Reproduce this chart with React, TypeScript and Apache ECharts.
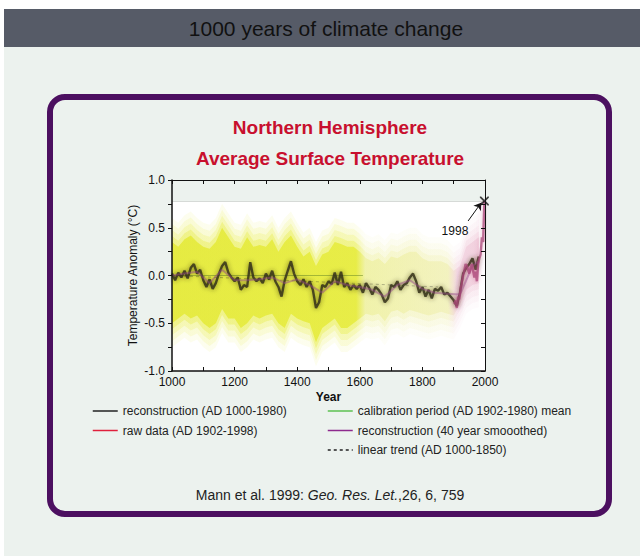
import React, { useEffect, useRef } from "react";
import * as echarts from "echarts";

const FONT = "'Liberation Sans', Arial, sans-serif";

// Reconstruction (decadal samples, AD 1000-1980)
const RECON_YEARS = Array.from({ length: 99 }, (_, i) => 1000 + i * 10);
const RECON = [
  0.02, -0.05, 0.03, -0.02, 0.05, -0.03, 0.08, 0.12, 0.02, 0.06,
  -0.05, -0.12, -0.04, -0.14, -0.08, 0.02, 0.10, 0.14, 0.03, -0.02,
  -0.06, -0.02, -0.15, -0.10, -0.12, 0.14, -0.02, -0.06, -0.03, -0.08,
  0.02, -0.04, 0.05, -0.06, -0.12, -0.22, -0.05, 0.05, 0.15, 0.02,
  -0.06, -0.10, -0.04, -0.12, -0.06, -0.15, -0.34, -0.28, -0.10, -0.12,
  -0.06, -0.09, 0.03, -0.10, 0.04, -0.12, -0.08, -0.15, -0.10, -0.14,
  -0.10, -0.18, -0.08, -0.13, -0.20, -0.12, -0.15, -0.20, -0.28, -0.24,
  -0.10, -0.12, -0.06, -0.15, -0.10, -0.08, -0.02, 0.02, -0.06, -0.18,
  -0.12, -0.22, -0.15, -0.24, -0.14, -0.16, -0.12, -0.20, -0.18, -0.22,
  -0.26, -0.32, -0.18, 0.02, 0.08, 0.12, 0.18, 0.06, 0.20,
];

// Uncertainty band (20-year samples)
const BAND_YEARS = Array.from({ length: 50 }, (_, i) => 1000 + i * 20);
const BAND_UPPER = [
  0.35, 0.30, 0.38, 0.42, 0.35, 0.30, 0.28, 0.35, 0.50, 0.40,
  0.30, 0.28, 0.40, 0.30, 0.32, 0.30, 0.38, 0.25, 0.35, 0.42,
  0.30, 0.20, 0.25, 0.10, 0.22, 0.25, 0.35, 0.33, 0.30, 0.30,
  0.25, 0.18, 0.15, 0.18, 0.12, 0.20, 0.18, 0.22, 0.25, 0.25,
  0.18, 0.15, 0.15, 0.15, 0.12, 0.05, 0.10, 0.30, 0.35, 0.40,
];
const BAND_LOWER = [
  -0.50, -0.45, -0.40, -0.45, -0.42, -0.50, -0.55, -0.50, -0.35, -0.45,
  -0.45, -0.55, -0.50, -0.42, -0.45, -0.42, -0.40, -0.50, -0.55, -0.40,
  -0.45, -0.48, -0.50, -0.70, -0.55, -0.50, -0.45, -0.55, -0.55, -0.50,
  -0.45, -0.40, -0.42, -0.40, -0.48, -0.38, -0.36, -0.40, -0.36, -0.38,
  -0.40, -0.42, -0.40, -0.38, -0.40, -0.42, -0.30, -0.15, -0.10, -0.08,
];

// Raw instrumental data (AD 1902-1998)
const RAW_YEARS = [1902, 1906, 1910, 1914, 1918, 1922, 1926, 1930, 1934, 1938, 1942, 1946, 1950, 1954, 1958, 1962, 1966, 1970, 1974, 1978, 1982, 1986, 1990, 1994, 1998];
const RAW = [-0.30, -0.26, -0.34, -0.22, -0.25, -0.14, -0.08, 0.0, 0.05, 0.12, 0.10, 0.06, 0.02, 0.08, 0.12, 0.05, -0.02, 0.04, -0.06, 0.12, 0.18, 0.22, 0.40, 0.35, 0.78];

// 40-year smoothed reconstruction
const SMOOTH_YEARS = [1000, 1040, 1080, 1120, 1160, 1200, 1240, 1280, 1320, 1360, 1400, 1440, 1480, 1520, 1560, 1600, 1640, 1680, 1720, 1760, 1800, 1840, 1880, 1920, 1960, 1980];
const SMOOTH = [0.0, 0.02, 0.04, -0.08, 0.06, -0.05, -0.05, -0.04, -0.02, -0.08, -0.04, -0.10, -0.18, -0.06, -0.10, -0.12, -0.15, -0.22, -0.10, -0.05, -0.14, -0.18, -0.19, -0.20, 0.10, 0.15];

const CALIB_YEARS = [1000, 1610];
const CALIB = [0.0, 0.0];
const TREND_YEARS = [1000, 1850];
const TREND = [0.0, -0.12];

const PEAK_YEAR = 1998;
const PEAK_VALUE = 0.78;

const NAMES = {
  recon: "reconstruction (AD 1000-1980)",
  raw: "raw data (AD 1902-1998)",
  calib: "calibration period (AD 1902-1980) mean",
  smooth: "reconstruction (40 year smooothed)",
  trend: "linear trend (AD 1000-1850)",
};

const pairs = (xs: number[], ys: number[]) => xs.map((x, i) => [x, ys[i]]);

// halo layers used to soften the band's edges: [pixel spread, opacity]
const HALO = [
  [24, 0.08],
  [18, 0.12],
  [12, 0.18],
  [6, 0.3],
  [0, 0.72],
];

export default function App() {
  const ref = useRef<HTMLDivElement>(null);
  useEffect(() => {
    if (!ref.current) return;
    const chart = echarts.init(ref.current, undefined, { renderer: "svg" });
    const makeGrad = () =>
      new echarts.graphic.LinearGradient(0, 0, 1, 0, [
        { offset: 0, color: "#E2E826" },
        { offset: 0.6, color: "#E4EA2C" },
        { offset: 0.63, color: "#EEF09E" },
        { offset: 0.9, color: "#F1F0B6" },
        { offset: 0.93, color: "#F2D2DF" },
        { offset: 1, color: "#EFC8D8" },
      ]);
    const legendText = { fontSize: 12, color: "#222", fontFamily: FONT };
    const axisLabel = { color: "#111", fontSize: 12, fontFamily: FONT };
    const hidden = { opacity: 0 };
    const legendCommon = {
      orient: "vertical", itemWidth: 25, itemHeight: 10, itemGap: 7.5, padding: 0,
      selectedMode: false, textStyle: legendText, itemStyle: hidden,
    };
    const option: any = {
      animation: false,
      backgroundColor: "transparent",
      textStyle: { fontFamily: FONT },
      grid: { left: 172, top: 180, width: 313, height: 191 },
      graphic: [
        {
          type: "text", x: 326, y: 28, z: 100,
          style: { text: "1000 years of climate change", fontSize: 21, fontFamily: FONT, fill: "#111", textAlign: "center", textVerticalAlign: "middle" },
        },
        {
          type: "text", x: 330, y: 127, z: 100,
          style: { text: "Northern Hemisphere", fontSize: 19, fontWeight: "bold", fontFamily: FONT, fill: "#C8102E", textAlign: "center", textVerticalAlign: "middle" },
        },
        {
          type: "text", x: 330, y: 158, z: 100,
          style: { text: "Average Surface Temperature", fontSize: 19, fontWeight: "bold", fontFamily: FONT, fill: "#C8102E", textAlign: "center", textVerticalAlign: "middle" },
        },
        {
          type: "text", x: 330, y: 495, z: 100,
          style: {
            text: "Mann et al. 1999: {i|Geo. Res. Let.},26, 6, 759",
            fontSize: 14, fontFamily: FONT, fill: "#222", textAlign: "center", textVerticalAlign: "middle",
            rich: { i: { fontStyle: "italic", fontSize: 14, fontFamily: FONT, fill: "#222" } },
          },
        },
      ],
      legend: [
        {
          ...legendCommon, left: 92, top: 405,
          data: [
            { name: NAMES.recon, itemStyle: hidden, lineStyle: { color: "#222", width: 1.5, opacity: 1, shadowBlur: 0 } },
            { name: NAMES.raw, itemStyle: hidden, lineStyle: { color: "#E0203C", width: 1.5, opacity: 1, shadowBlur: 0 } },
          ],
        },
        {
          ...legendCommon, left: 327, top: 405,
          data: [
            { name: NAMES.calib, itemStyle: hidden, lineStyle: { color: "#5DC050", width: 1.5, opacity: 1, shadowBlur: 0 } },
            { name: NAMES.smooth, itemStyle: hidden, lineStyle: { color: "#8E2A8E", width: 1.5, opacity: 1, shadowBlur: 0 } },
            { name: NAMES.trend, itemStyle: hidden, lineStyle: { color: "#222", width: 1.5, opacity: 1, shadowBlur: 0, type: [3, 3] } },
          ],
        },
      ],
      xAxis: [
        {
          type: "value", min: 1000, max: 2000, interval: 100, position: "bottom", z: 10,
          axisLine: { show: true, onZero: false, lineStyle: { color: "#111", width: 1.5 } },
          axisTick: { show: true, inside: true, length: 4, lineStyle: { color: "#111" } },
          axisLabel: { ...axisLabel, margin: 5, formatter: (v: number) => (v % 200 === 0 ? String(v) : "") },
          splitLine: { show: false },
          name: "Year", nameLocation: "middle", nameGap: 20,
          nameTextStyle: { fontWeight: "bold", fontSize: 12, color: "#111", fontFamily: FONT },
        },
        {
          type: "value", min: 1000, max: 2000, interval: 100, position: "top", z: 10,
          axisLine: { show: true, onZero: false, lineStyle: { color: "#111", width: 1 } },
          axisTick: { show: true, inside: true, length: 4, lineStyle: { color: "#111" } },
          axisLabel: { show: false }, splitLine: { show: false },
        },
      ],
      yAxis: [
        {
          type: "value", min: -1, max: 1, interval: 0.25, position: "left", z: 10,
          axisLine: { show: true, onZero: false, lineStyle: { color: "#111", width: 1.5 } },
          axisTick: { show: true, inside: false, length: 4, lineStyle: { color: "#111" } },
          axisLabel: {
            ...axisLabel, margin: 7,
            formatter: (v: number) => (Math.abs(v * 2 - Math.round(v * 2)) < 1e-6 ? v.toFixed(1) : ""),
          },
          splitLine: { show: false },
          name: "Temperature Anomaly (°C)", nameLocation: "middle", nameGap: 33,
          nameTextStyle: { fontSize: 12, color: "#111", fontFamily: FONT },
        },
        {
          type: "value", min: -1, max: 1, interval: 0.25, position: "right", z: 10,
          axisLine: { show: true, onZero: false, lineStyle: { color: "#111", width: 1 } },
          axisTick: { show: true, inside: true, length: 4, lineStyle: { color: "#111" } },
          axisLabel: { show: false }, splitLine: { show: false },
        },
      ],
      series: [
        {
          type: "line", data: [], silent: true, z: 1,
          markArea: { silent: true, itemStyle: { color: "#ffffff" }, data: [[{ yAxis: -1 }, { yAxis: PEAK_VALUE }]] },
          markLine: {
            silent: true, symbol: "none", label: { show: false },
            lineStyle: { color: "#d6dad7", width: 1, type: "solid" },
            data: [{ yAxis: PEAK_VALUE }],
          },
        },
        {
          type: "custom", silent: true, z: 2, clip: true,
          data: [[BAND_YEARS[0], BAND_UPPER[0]]],
          renderItem: (_params: any, api: any) => {
            const top = BAND_YEARS.map((y, i) => api.coord([y, BAND_UPPER[i]]));
            const bot = BAND_YEARS.map((y, i) => api.coord([y, BAND_LOWER[i]]));
            const yTop = api.coord([1000, PEAK_VALUE])[1];
            const yBot = api.coord([1000, -1])[1];
            const children = HALO.map(([d, op]) => {
              const t = top.map((p: number[]) => [p[0], Math.max(yTop, p[1] - d)]);
              const b = bot.map((p: number[]) => [p[0], Math.min(yBot, p[1] + d)]).reverse();
              return {
                type: "polygon",
                shape: { points: t.concat(b) },
                style: { fill: makeGrad(), opacity: op },
              };
            });
            return { type: "group", children };
          },
        },
        {
          name: NAMES.calib, type: "line", symbol: "none", silent: true, z: 3,
          data: pairs(CALIB_YEARS, CALIB),
          lineStyle: { color: "rgba(110,140,40,0.55)", width: 1 },
        },
        {
          name: NAMES.trend, type: "line", symbol: "none", silent: true, z: 3,
          data: pairs(TREND_YEARS, TREND),
          lineStyle: { color: "rgba(30,30,30,0.3)", width: 1, type: [3, 3] },
        },
        {
          name: NAMES.recon, type: "line", symbol: "none", silent: true, z: 4,
          data: pairs(RECON_YEARS, RECON),
          lineStyle: { color: "#35331a", width: 2.4, opacity: 0.85, shadowBlur: 5, shadowColor: "rgba(50,45,20,0.75)" },
        },
        {
          name: NAMES.smooth, type: "line", symbol: "none", silent: true, z: 5,
          data: pairs(SMOOTH_YEARS, SMOOTH),
          lineStyle: { color: "rgba(150,70,140,0.45)", width: 2 },
        },
        {
          name: NAMES.raw, type: "line", symbol: "none", silent: true, z: 5,
          data: pairs(RAW_YEARS, RAW),
          lineStyle: { color: "rgba(170,70,120,0.75)", width: 2.4, shadowBlur: 5, shadowColor: "rgba(200,80,130,0.6)" },
        },
        {
          type: "scatter", silent: true, z: 10,
          data: [[PEAK_YEAR, PEAK_VALUE]],
          symbol: "path://M0,0 L1.4,0 L5,3.6 L8.6,0 L10,0 L10,1.4 L6.4,5 L10,8.6 L10,10 L8.6,10 L5,6.4 L1.4,10 L0,10 L0,8.6 L3.6,5 L0,1.4 Z",
          symbolSize: 9,
          itemStyle: { color: "#111" },
          markLine: {
            silent: true, symbol: ["none", "arrow"], symbolSize: 7,
            label: { show: false },
            lineStyle: { color: "#111", width: 1, type: "solid" },
            data: [[{ coord: [1946, 0.571] }, { coord: [1988, 0.762] }]],
          },
          markPoint: {
            silent: true, symbol: "rect", symbolSize: [30, 14],
            itemStyle: { color: "rgba(0,0,0,0)" },
            label: { show: true, position: "inside", formatter: String(PEAK_YEAR), color: "#111", fontSize: 12, fontFamily: FONT },
            data: [{ coord: [1904, 0.466] }],
          },
        },
      ],
    };
    chart.setOption(option);
    return () => chart.dispose();
  }, []);

  return (
    <div style={{ position: "fixed", left: 0, top: 0, width: 640, height: 556, background: "#ffffff" }}>
      <div style={{ position: "absolute", left: 4, top: 9, width: 636, height: 38, background: "#565B67" }} />
      <div style={{ position: "absolute", left: 4, top: 47, width: 636, height: 509, background: "#ECF2EE" }} />
      <div
        style={{
          position: "absolute", left: 47, top: 94, width: 565, height: 423, boxSizing: "border-box",
          border: "6px solid #4C1060", borderRadius: 18,
        }}
      />
      <div ref={ref} style={{ position: "absolute", left: 0, top: 0, width: 640, height: 556 }} />
    </div>
  );
}
